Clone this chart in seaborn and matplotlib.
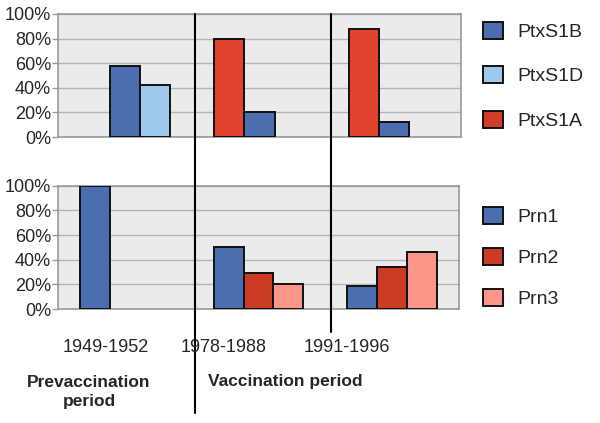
import numpy as np
import pandas as pd
import matplotlib
matplotlib.use("Agg")
import matplotlib.pyplot as plt
from matplotlib.lines import Line2D
from matplotlib.patches import Patch
import seaborn as sns

# data (percent)
periods = ["1949-1952", "1978-1988", "1991-1996"]
ptx_order = ["PtxS1A", "PtxS1B", "PtxS1D"]
ptx_legend = ["PtxS1B", "PtxS1D", "PtxS1A"]
ptx_a = [np.nan, 80, 88]
ptx_b = [58, 20, 12]
ptx_d = [42, np.nan, np.nan]
prn_order = ["Prn1", "Prn2", "Prn3"]
prn1 = [100, 50, 19]
prn2 = [np.nan, 29, 34]
prn3 = [np.nan, 20.5, 46]

colors = {"PtxS1A": "#e0432e", "PtxS1B": "#4b6eb0", "PtxS1D": "#9fc9ec",
          "Prn1": "#4b6eb0", "Prn2": "#cc3b26", "Prn3": "#fb9688"}
legend_colors = dict(colors, PtxS1A="#d23c2b")


def long_df(names, series):
    rows = []
    for name, vals in zip(names, series):
        for p, v in zip(periods, vals):
            if not np.isnan(v):
                rows.append({"period": p, "allele": name, "pct": v})
    return pd.DataFrame(rows)


ptx_df = long_df(ptx_order, [ptx_a, ptx_b, ptx_d])
prn_df = long_df(prn_order, [prn1, prn2, prn3])

sns.set_theme(style="white")
plt.rcParams["font.family"] = ["Liberation Sans", "DejaVu Sans"]

fig = plt.figure(figsize=(6, 4.23), dpi=100)
W, H = 600, 423
ax_top = fig.add_axes([58 / W, 1 - 137 / H, 403 / W, 123 / H])
ax_bot = fig.add_axes([58 / W, 1 - 309 / H, 401 / W, 123.3 / H])


def draw(ax, df, order, legend_names, leg_y, spacing):
    ax.set_facecolor("#ebebeb")
    sns.barplot(data=df, x="period", y="pct", hue="allele", order=periods,
                hue_order=order, palette=colors, width=0.67, gap=0,
                saturation=1, edgecolor="#111111", linewidth=1.4,
                errorbar=None, legend=False, ax=ax, zorder=3)
    ax.set_xlim(-0.5, 2.5)
    ax.set_ylim(0, 100)
    ax.set_yticks([0, 20, 40, 60, 80, 100])
    ax.set_yticklabels([f"{t}%" for t in range(0, 101, 20)], fontsize=13)
    ax.set_xticks([])
    ax.set_xlabel("")
    ax.set_ylabel("")
    ax.grid(axis="y", color="#b4b4b4", linewidth=1, zorder=0)
    ax.set_axisbelow(True)
    ax.tick_params(axis="y", length=4, width=1, color="#999999", pad=1,
                   left=True)
    for s in ax.spines.values():
        s.set_color("#999999")
        s.set_linewidth(1.2)
    handles = [Patch(facecolor=legend_colors[n], edgecolor="#111111",
                     linewidth=1.4) for n in legend_names]
    fig.legend(handles, legend_names, loc="upper left",
               bbox_to_anchor=(475 / W, 1 - leg_y / H), frameon=False,
               fontsize=14, handlelength=1.05, handleheight=0.95,
               handletextpad=0.75, labelspacing=spacing, borderaxespad=0)


draw(ax_top, ptx_df, ptx_order, ptx_legend, 14, 1.31)
draw(ax_bot, prn_df, prn_order, prn_order, 199, 1.13)

# period separators
fig.add_artist(Line2D([195 / W, 195 / W], [1 - 14 / H, 1 - 413 / H],
                      color="black", linewidth=1.5))
fig.add_artist(Line2D([331 / W, 331 / W], [1 - 14 / H, 1 - 332 / H],
                      color="black", linewidth=1.5))

label_x = [106, 224, 347]
for p, x in zip(periods, label_x):
    fig.text(x / W, 1 - 347 / H, p, ha="center", va="center", fontsize=13)

fig.text(89 / W, 1 - 392 / H, "Prevaccination\nperiod", ha="center",
         va="center", fontsize=12.5, fontweight="bold", linespacing=1.4)
fig.text(285 / W, 1 - 381 / H, "Vaccination period", ha="center",
         va="center", fontsize=12.5, fontweight="bold")

fig.savefig("out.png", dpi=100)
